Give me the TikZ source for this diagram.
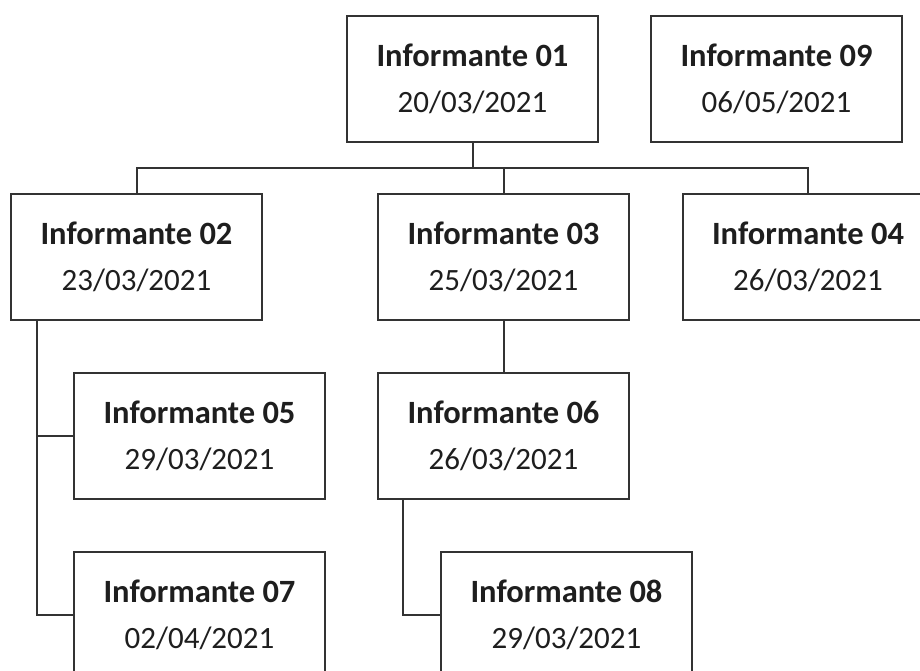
\documentclass[tikz,border=0pt]{standalone}
\usepackage{fontspec}
\setmainfont{Carlito}
\definecolor{linec}{HTML}{333333}
\definecolor{txtc}{HTML}{1E1E1E}
\begin{document}
\begin{tikzpicture}[x=1pt,y=-1pt,
  infobox/.style={draw=linec, line width=2pt, fill=white, rectangle,
    minimum width=251pt, minimum height=126pt, inner sep=0pt,
    align=center, text=txtc, font=\fontsize{31}{36}\selectfont},
  link/.style={draw=linec, line width=2pt}]
\clip (0,0) rectangle (920,671);
\fill[white] (0,0) rectangle (920,671);
\newcommand{\infotext}[2]{{\fontsize{32.5}{36}\selectfont\bfseries Informante #1}\\[10pt]#2}
\node[infobox] (n01) at (472.5,79) {\infotext{01}{20/03/2021}};
\node[infobox] (n09) at (776.5,79) {\infotext{09}{06/05/2021}};
\node[infobox] (n02) at (136.5,257) {\infotext{02}{23/03/2021}};
\node[infobox] (n03) at (503.5,257) {\infotext{03}{25/03/2021}};
\node[infobox] (n04) at (808,257) {\infotext{04}{26/03/2021}};
\node[infobox] (n05) at (199.5,435.5) {\infotext{05}{29/03/2021}};
\node[infobox] (n06) at (503.5,436) {\infotext{06}{26/03/2021}};
\node[infobox] (n07) at (199.5,615) {\infotext{07}{02/04/2021}};
\node[infobox] (n08) at (566.5,615) {\infotext{08}{29/03/2021}};
\coordinate (bus) at (472.5,168);
\coordinate (c2) at ([xshift=27pt]n02.south west);
\coordinate (c6) at ([xshift=26pt]n06.south west);
\draw[link] (n01.south) -- (bus);
\draw[link] (n02.north) |- (bus) -| (n04.north);
\draw[link] (n03.north) -- (n03.north |- bus);
\draw[link] (n03.south) -- (n06.north);
\draw[link] (c2) |- (n07.west);
\draw[link] (n05.west) -- (n05.west -| c2);
\draw[link] (c6) |- (n08.west);
\end{tikzpicture}
\end{document}
